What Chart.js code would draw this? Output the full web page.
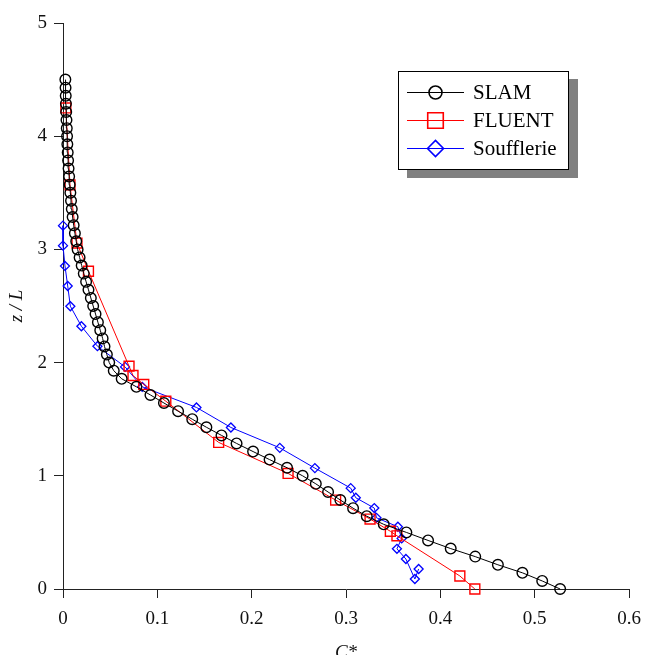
<!DOCTYPE html>
<html>
<head>
<meta charset="utf-8">
<script src="https://cdn.jsdelivr.net/npm/chart.js@4.4.0/dist/chart.umd.min.js"></script>
<style>
html, body { margin: 0; padding: 0; background: #fff; overflow: hidden; }
#wrap { width: 645px; height: 655px; }
</style>
</head>
<body>
<div id="wrap"><canvas id="chart" width="645" height="655"></canvas></div>
<script>
// axes
const xTickLabels = ['0', '0.1', '0.2', '0.3', '0.4', '0.5', '0.6'];
const yTickLabels = ['0', '1', '2', '3', '4', '5'];

// SLAM (pas constant en z/L)
const slamZ = [0, 0.071, 0.143, 0.214, 0.286, 0.357, 0.429, 0.5, 0.571, 0.643,
    0.714, 0.786, 0.857, 0.929, 1.0, 1.071, 1.143, 1.214, 1.286, 1.357,
    1.429, 1.5, 1.571, 1.643, 1.714, 1.786, 1.857, 1.929, 2.0, 2.071,
    2.143, 2.214, 2.286, 2.357, 2.429, 2.5, 2.571, 2.643, 2.714, 2.786,
    2.857, 2.929, 3.0, 3.071, 3.143, 3.214, 3.286, 3.357, 3.429, 3.5,
    3.571, 3.643, 3.714, 3.786, 3.857, 3.929, 4.0, 4.071, 4.143, 4.214,
    4.286, 4.357, 4.429, 4.5];
const slamC = [0.527, 0.508, 0.487, 0.461, 0.437, 0.411, 0.387, 0.364, 0.340, 0.322,
    0.3075, 0.294, 0.281, 0.268, 0.254, 0.2375, 0.219, 0.2015, 0.184, 0.168,
    0.152, 0.137, 0.122, 0.107, 0.0927, 0.0778, 0.0622, 0.0538, 0.049, 0.0465,
    0.044, 0.042, 0.0395, 0.037, 0.0345, 0.032, 0.0295, 0.027, 0.0245, 0.022,
    0.0198, 0.0176, 0.0155, 0.014, 0.0126, 0.0113, 0.0102, 0.0093, 0.0085, 0.0078,
    0.0071, 0.0065, 0.0059, 0.0054, 0.005, 0.0046, 0.0043, 0.004, 0.0037, 0.0034,
    0.0031, 0.0029, 0.0027, 0.0025];

// FLUENT
const fluentZ = [4.25, 3.57, 3.056, 2.807, 1.968, 1.886, 1.807, 1.659, 1.295, 1.021,
    0.786, 0.618, 0.51, 0.47, 0.115, 0.0];
const fluentC = [0.003, 0.0074, 0.0148, 0.027, 0.070, 0.0742, 0.0856, 0.109, 0.165, 0.2386,
    0.289, 0.3255, 0.347, 0.354, 0.4207, 0.4366];

// Soufflerie
const windZ = [3.21, 3.033, 2.854, 2.677, 2.498, 2.321, 2.145, 1.962, 1.786, 1.604,
    1.427, 1.247, 1.068, 0.891, 0.806, 0.715, 0.629, 0.55, 0.447, 0.355,
    0.265, 0.088, 0.177];
const windC = [0.0, 0.0, 0.0021, 0.005, 0.0078, 0.0195, 0.0365, 0.0658, 0.084, 0.1415,
    0.178, 0.2298, 0.267, 0.305, 0.3104, 0.330, 0.3323, 0.355, 0.359, 0.354,
    0.3635, 0.373, 0.377];

const seriesNames = ['SLAM', 'FLUENT', 'Soufflerie'];

function toPoints(xs, ys) {
    return xs.map((x, i) => ({ x: x, y: ys[i] }));
}

const serif = '"Liberation Serif", "Times New Roman", serif';

// légende encadrée avec ombre
const boxLegend = {
    id: 'boxLegend',
    afterDraw(chart) {
        const ctx = chart.ctx;
        const bx = 398, by = 71, bw = 171, bh = 99;
        ctx.save();
        ctx.fillStyle = '#808080';
        ctx.fillRect(bx + 9, by + 8, bw, bh);
        ctx.fillStyle = '#fff';
        ctx.fillRect(bx, by, bw, bh);
        ctx.strokeStyle = '#000';
        ctx.lineWidth = 1;
        ctx.strokeRect(bx + 0.5, by + 0.5, bw - 1, bh - 1);

        const rowsY = [92.5, 120.5, 148.5];
        const sizes = [6.5, 11, 8];
        chart.data.datasets.forEach((ds, i) => {
            const y = rowsY[i];
            ctx.strokeStyle = ds.borderColor;
            ctx.lineWidth = 1;
            ctx.beginPath();
            ctx.moveTo(407, y);
            ctx.lineTo(464, y);
            ctx.stroke();
            ctx.strokeStyle = ds.pointBorderColor;
            ctx.fillStyle = 'rgba(0,0,0,0)';
            ctx.lineWidth = 1.6;
            Chart.helpers.drawPoint(ctx, {
                pointStyle: ds.pointStyle,
                radius: sizes[i],
                rotation: 0,
                borderWidth: 1.6
            }, 435.5, y);
            ctx.fillStyle = '#000';
            ctx.font = '21px ' + serif;
            ctx.textBaseline = 'middle';
            ctx.textAlign = 'left';
            ctx.fillText(ds.label, 473, y + 1);
        });
        ctx.restore();
    }
};

new Chart(document.getElementById('chart'), {
    type: 'line',
    data: {
        datasets: [
            {
                label: seriesNames[0],
                data: toPoints(slamC, slamZ),
                borderColor: '#000',
                borderWidth: 1,
                pointStyle: 'circle',
                pointRadius: 5.3,
                pointBorderWidth: 1.4,
                pointBorderColor: '#000',
                pointBackgroundColor: 'rgba(0,0,0,0)',
                clip: false
            },
            {
                label: seriesNames[1],
                data: toPoints(fluentC, fluentZ),
                borderColor: '#ff0000',
                borderWidth: 1,
                pointStyle: 'rect',
                pointRadius: 7,
                pointBorderWidth: 1.4,
                pointBorderColor: '#ff0000',
                pointBackgroundColor: 'rgba(0,0,0,0)',
                clip: false
            },
            {
                label: seriesNames[2],
                data: toPoints(windC, windZ),
                borderColor: '#0000ff',
                borderWidth: 1,
                pointStyle: 'rectRot',
                pointRadius: 4.5,
                pointBorderWidth: 1.3,
                pointBorderColor: '#0000ff',
                pointBackgroundColor: 'rgba(0,0,0,0)',
                clip: false
            }
        ]
    },
    options: {
        responsive: false,
        animation: false,
        devicePixelRatio: 1,
        layout: { padding: { left: 0, right: 16, top: 23, bottom: 0 } },
        elements: { line: { tension: 0 } },
        plugins: {
            legend: { display: false },
            tooltip: { enabled: false }
        },
        scales: {
            x: {
                type: 'linear',
                min: 0,
                max: 0.6,
                afterFit: function(scale) {
                    scale.height = 66;
                    scale.paddingLeft = 0;
                    scale.paddingRight = 0;
                },
                ticks: {
                    stepSize: 0.1,
                    padding: 10,
                    color: '#111',
                    font: { family: serif, size: 19 },
                    maxRotation: 0,
                    callback: function(value, index) { return xTickLabels[index]; }
                },
                grid: { drawOnChartArea: false, drawTicks: true, tickLength: 9, color: '#222' },
                border: { display: true, color: '#222', width: 1 },
                title: {
                    display: true,
                    text: 'C*',
                    color: '#111',
                    font: { family: serif, size: 19, style: 'italic' },
                    padding: { top: 0, bottom: -9 }
                }
            },
            y: {
                type: 'linear',
                min: 0,
                max: 5,
                afterFit: function(scale) {
                    scale.width = 63;
                    scale.paddingTop = 0;
                    scale.paddingBottom = 0;
                },
                ticks: {
                    stepSize: 1,
                    padding: 7,
                    color: '#111',
                    font: { family: serif, size: 19 },
                    callback: function(value, index) { return yTickLabels[index]; }
                },
                grid: { drawOnChartArea: false, drawTicks: true, tickLength: 9, color: '#222' },
                border: { display: true, color: '#222', width: 1 },
                title: {
                    display: true,
                    text: 'z / L',
                    color: '#111',
                    font: { family: serif, size: 19, style: 'italic' },
                    padding: { top: 6, bottom: 0 }
                }
            }
        }
    },
    plugins: [boxLegend]
});
</script>
</body>
</html>
